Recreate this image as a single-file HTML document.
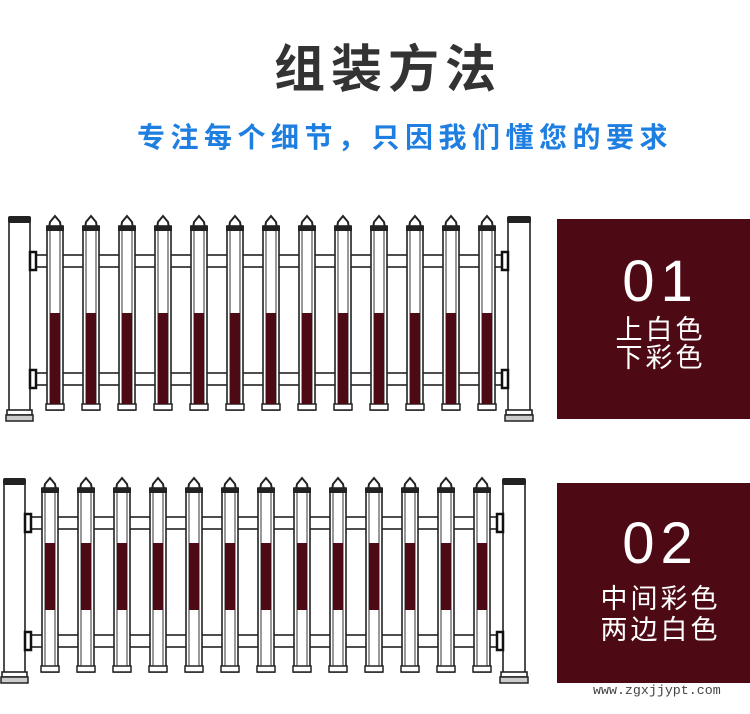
<!DOCTYPE html>
<html><head><meta charset="utf-8">
<style>
html,body{margin:0;padding:0;background:#fff;width:750px;height:714px;overflow:hidden;position:relative;font-family:"Liberation Sans","Noto Sans CJK SC",sans-serif}
.t{position:absolute;left:0;width:750px;text-align:center;box-sizing:border-box}
#title{top:38px;font-size:51px;font-weight:bold;color:#333;letter-spacing:6px;line-height:64px;padding-left:26px}
#sub{top:118px;font-size:28px;font-weight:bold;color:#1f7fe0;letter-spacing:5.5px;line-height:40px;padding-left:60px}
.panel{position:absolute;left:557px;width:193px;height:200px;background:#4d0a14;color:#fff;text-align:center;padding-left:14px;box-sizing:border-box}
.num{font-size:58px;line-height:60px;font-weight:normal;letter-spacing:6px}
.lab{font-size:27px;line-height:28px;letter-spacing:3px}
#wm{position:absolute;left:593px;top:683px;font-family:"Liberation Mono",monospace;font-size:13.3px;color:#444}
svg{position:absolute;left:0;top:0}
</style></head><body>
<div class="t" id="title">组装方法</div>
<div class="t" id="sub">专注每个细节，只因我们懂您的要求</div>
<div class="panel" style="top:219px"><div class="num" style="margin-top:33px">01</div><div class="lab" style="margin-top:4px">上白色<br>下彩色</div></div>
<div class="panel" style="top:483px"><div class="num" style="margin-top:31px">02</div><div class="lab" style="margin-top:10px;line-height:31px">中间彩色<br>两边白色</div></div>
<div id="wm">www.zgxjjypt.com</div>
<svg id="s" width="750" height="714" viewBox="0 0 750 714"></svg>
<script>
var s='';
function fence(dx,dy,r1,r2){
  var st='stroke="#222" stroke-width="1.6" fill="#fff"';
  [[255,267],[373,385]].forEach(function(r){
    s+='<rect x="'+(30+dx)+'" y="'+(r[0]+dy)+'" width="'+(478)+'" height="'+(r[1]-r[0])+'" '+st+'/>';
  });
  for(var i=0;i<13;i++){
    var cx=55+36*i+dx, y0=216+dy;
    var l=cx-8,w=16;
    s+='<path d="M'+(cx-6)+' '+(y0+12)+' L'+(cx-5)+' '+(y0+6)+' L'+cx+' '+y0+' L'+(cx+5)+' '+(y0+6)+' L'+(cx+6)+' '+(y0+12)+'" stroke="#222" stroke-width="2" fill="#fff"/>';
    s+='<rect x="'+l+'" y="'+(y0+10)+'" width="'+w+'" height="184" '+st+'/>';
    s+='<rect x="'+(l-1)+'" y="'+(y0+10)+'" width="'+(w+2)+'" height="5" fill="#222"/>';
    s+='<rect x="'+(l-1)+'" y="'+(y0+188)+'" width="'+(w+2)+'" height="6" fill="#fff" stroke="#222" stroke-width="1.5"/>';
    s+='<line x1="'+(l+3)+'" y1="'+(y0+15)+'" x2="'+(l+3)+'" y2="'+(y0+188)+'" stroke="#333" stroke-width="1"/>';
    s+='<line x1="'+(l+13)+'" y1="'+(y0+15)+'" x2="'+(l+13)+'" y2="'+(y0+188)+'" stroke="#333" stroke-width="1"/>';
    s+='<rect x="'+(l+3)+'" y="'+(r1+dy)+'" width="10" height="'+(r2-r1)+'" fill="#4d0a14"/>';
  }
  [[9,30],[508,530]].forEach(function(p){
    var x=p[0]+dx,w=p[1]-p[0];
    s+='<rect x="'+x+'" y="'+(222+dy)+'" width="'+w+'" height="'+(190)+'" '+st+'/>';
    s+='<rect x="'+(x-1)+'" y="'+(216+dy)+'" width="'+(w+2)+'" height="7" rx="2" fill="#222"/>';
    s+='<rect x="'+(x-2)+'" y="'+(410+dy)+'" width="'+(w+4)+'" height="5" '+st+'/>';
    s+='<rect x="'+(x-3)+'" y="'+(415+dy)+'" width="'+(w+6)+'" height="6" fill="#ccc" stroke="#222" stroke-width="1.5"/>';
    var bx = p[0]<100 ? x+w : x-6;
    [[252,270],[370,388]].forEach(function(b){
      s+='<rect x="'+bx+'" y="'+(b[0]+dy)+'" width="6" height="'+(b[1]-b[0])+'" fill="#fff" stroke="#111" stroke-width="2.5"/>';
    });
  });
}
fence(0,0,313,404);
fence(-5,262,281,348);
document.getElementById('s').innerHTML=s;
</script>
</body></html>
